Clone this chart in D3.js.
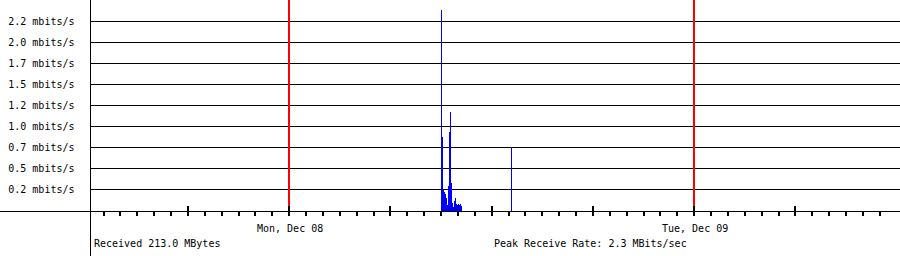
<!DOCTYPE html>
<meta charset="utf-8">
<script src="https://d3js.org/d3.v7.min.js"></script>
<style type="text/css">
body { margin: 0; background: #fff; }
svg { display: block; font-family: "DejaVu Sans Mono", monospace; font-size: 10px; }
.grade line { stroke: #000; shape-rendering: crispEdges; }
.rotulo { fill: #000; }
</style>
<body>
<div id="canvas"></div>
<script>

	// samples (receive rate, mbits/s)
	var sampleTimes = [
		"2014-12-08 08:56", "2014-12-08 09:00", "2014-12-08 09:04", "2014-12-08 09:07",
		"2014-12-08 09:11", "2014-12-08 09:14", "2014-12-08 09:18", "2014-12-08 09:21",
		"2014-12-08 09:25", "2014-12-08 09:28", "2014-12-08 09:32", "2014-12-08 09:35",
		"2014-12-08 09:39", "2014-12-08 09:42", "2014-12-08 09:46", "2014-12-08 09:50",
		"2014-12-08 09:53", "2014-12-08 09:57", "2014-12-08 10:00", "2014-12-08 10:04",
		"2014-12-08 10:07", "2014-12-08 10:11", "2014-12-08 10:14",
		"2014-12-08 13:09", "2014-12-08 13:13"
	];
	var sampleRates = [
		0, 2.38, 0.88, 0.25,
		0.22, 0.20, 0.15, 0.07,
		0.30, 0.94, 1.17, 0.33,
		0.10, 0.05, 0.12, 0.15,
		0.08, 0.07, 0.08, 0.07,
		0.08, 0.06, 0,
		0.76, 0
	];

	// eixo Y
	var rateTicks = [0.25, 0.5, 0.75, 1.0, 1.25, 1.5, 1.75, 2.0, 2.25];
	var rateLabels = ["0.2 mbits/s", "0.5 mbits/s", "0.7 mbits/s", "1.0 mbits/s", "1.2 mbits/s",
		"1.5 mbits/s", "1.7 mbits/s", "2.0 mbits/s", "2.2 mbits/s"];

	// eixo X
	var timeWindow = ["2014-12-07 12:12", "2014-12-09 12:12"];
	var dayLabels = ["Mon, Dec 08", "Tue, Dec 09"];
	var summaryTexts = ["Received 213.0 MBytes", "Peak Receive Rate: 2.3 MBits/sec"];

	var width = 900;
	var height = 256;
	var margin = {left: 90, right: 0, top: 0, bottom: 45};

	var parse = d3.timeParse("%Y-%m-%d %H:%M");
	var data = sampleTimes.map(function(t, i) { return {t: parse(t), v: sampleRates[i]}; });

	var svg = d3.select('#canvas')
		.append("svg")
		.attr('width', width)
		.attr('height', height);

	var x = d3.scaleTime()
		.domain(timeWindow.map(parse))
		.range([margin.left, width - margin.right]);

	var y = d3.scaleLinear()
		.domain([0, 2.5])
		.range([height - margin.bottom, margin.top]);

	var base = Math.floor(y(0)) + 0.5;

	// linhas de grade -------------------------------------------------
	var grade = svg.append("g").attr("class", "grade");
	grade.selectAll("line.h")
		.data(rateTicks)
		.enter().append("line")
		.attr("class", "h")
		.attr("x1", margin.left)
		.attr("x2", width)
		.attr("y1", function(d) { return Math.floor(y(d)) + 0.5; })
		.attr("y2", function(d) { return Math.floor(y(d)) + 0.5; });

	svg.selectAll("text.yl")
		.data(rateTicks)
		.enter().append("text")
		.attr("class", "rotulo yl")
		.attr("x", 74.5)
		.attr("y", function(d) { return Math.floor(y(d)) + 4; })
		.attr("text-anchor", "end")
		.text(function(d, i) { return rateLabels[i]; });

	// dias (meia-noite)
	var midnights = d3.timeDay.range(x.domain()[0], x.domain()[1]).filter(function(d) { return d > x.domain()[0]; });

	svg.selectAll("line.dia")
		.data(midnights)
		.enter().append("line")
		.attr("class", "dia")
		.attr("x1", function(d) { return Math.round(x(d)); })
		.attr("x2", function(d) { return Math.round(x(d)); })
		.attr("y1", 0)
		.attr("y2", 206)
		.style("stroke", "#ff0000")
		.style("stroke-width", 2)
		.style("shape-rendering", "crispEdges");

	// dados -----------------------------------------------------------
	var area = d3.area()
		.curve(d3.curveStepAfter)
		.x(function(d) { return x(d.t); })
		.y0(y(0))
		.y1(function(d) { return y(d.v); });

	svg.append("path")
		.datum(data)
		.attr("d", area)
		.style("fill", "#0000ff")
		.style("stroke", "none")
		.style("shape-rendering", "crispEdges");

	// eixos -----------------------------------------------------------
	grade.append("line")
		.attr("x1", 0).attr("x2", width)
		.attr("y1", base).attr("y2", base);
	grade.append("line")
		.attr("x1", margin.left + 0.5).attr("x2", margin.left + 0.5)
		.attr("y1", 0).attr("y2", height);

	// marcas de hora (sem a ultima, colada na borda)
	var hours = d3.timeHour.range(x.domain()[0], x.domain()[1])
		.filter(function(d) { return x(d) < width - 10; });
	svg.selectAll("line.tick")
		.data(hours)
		.enter().append("line")
		.attr("class", "tick")
		.attr("x1", function(d) { return Math.round(x(d)); })
		.attr("x2", function(d) { return Math.round(x(d)); })
		.attr("y1", function(d) { return d.getHours() % 6 === 0 ? 206 : base; })
		.attr("y2", 216)
		.style("stroke", "#000")
		.style("stroke-width", 2)
		.style("shape-rendering", "crispEdges");

	svg.selectAll("text.dl")
		.data(midnights)
		.enter().append("text")
		.attr("class", "rotulo dl")
		.attr("x", function(d) { return x(d) + 1; })
		.attr("y", 232)
		.attr("text-anchor", "middle")
		.text(function(d, i) { return dayLabels[i]; });

	// textos de resumo
	svg.append("text")
		.attr("class", "rotulo")
		.attr("x", 94)
		.attr("y", 247)
		.text(summaryTexts[0]);
	svg.append("text")
		.attr("class", "rotulo")
		.attr("x", 494)
		.attr("y", 247)
		.text(summaryTexts[1]);
</script>
</body>
